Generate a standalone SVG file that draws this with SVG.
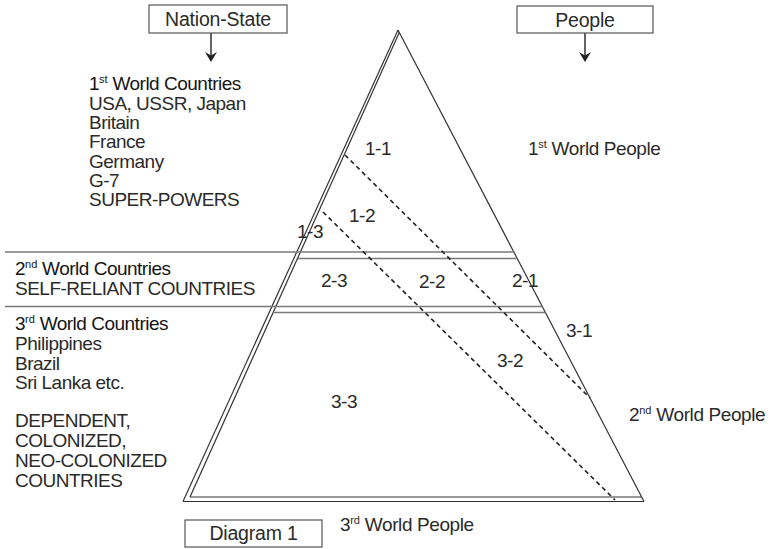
<svg xmlns="http://www.w3.org/2000/svg" width="771" height="549" viewBox="0 0 771 549">
<style>
text{font-family:"Liberation Sans",Arial,sans-serif;fill:#2a2a2a}
.b{font-size:19px;letter-spacing:-0.5px}
.h{fill:#151515}
.bx{font-size:19.5px;letter-spacing:-0.2px}
.p{font-size:19px;letter-spacing:-0.4px}
.sup{font-size:11px;letter-spacing:0}
.tri{stroke:#333;stroke-width:1.2;fill:none}
.band{stroke:#7a7a7a;stroke-width:1.6;fill:none}
.dash{stroke:#222;stroke-width:1.6;stroke-dasharray:4.5 3.5;fill:none}
.box{fill:#fff;stroke:#555;stroke-width:1.2}
.arr{stroke:#222;stroke-width:1.4}
</style>
<rect width="771" height="549" fill="#fff"/>
<g id="connectors">
<line class="arr" x1="211" y1="33" x2="211" y2="56"/>
<polygon points="205,52 211,62 217,52 211,55.5" fill="#222"/>
<line class="arr" x1="585" y1="33" x2="585" y2="56"/>
<polygon points="579,52 585,62 591,52 585,55.5" fill="#222"/>
</g>
<g id="pyramid">
<line class="tri" x1="398" y1="30" x2="183" y2="501.5"/>
<line class="tri" x1="399.5" y1="32" x2="190" y2="497"/>
<line class="tri" x1="398" y1="30" x2="644" y2="501.5"/>
<line class="tri" x1="183" y1="501.5" x2="644" y2="501.5"/>
<line class="tri" x1="190" y1="497" x2="641.5" y2="497"/>
</g>
<g id="bands">
<line class="band" x1="5" y1="252" x2="514.5" y2="252"/>
<line class="band" x1="297.5" y1="258.5" x2="517.5" y2="258.5"/>
<line class="band" x1="5" y1="306.5" x2="542.5" y2="306.5"/>
<line class="band" x1="273" y1="312.5" x2="545.5" y2="312.5"/>
</g>
<g id="dividers">
<line class="dash" x1="345" y1="155" x2="590" y2="398"/>
<line class="dash" x1="323" y1="212" x2="615" y2="500"/>
</g>
<g id="nation-state">
<rect class="box" x="149" y="5" width="138" height="28"/>
<text class="bx" x="218" y="26" text-anchor="middle">Nation-State</text>
</g>
<g id="people">
<rect class="box" x="517" y="6" width="136" height="27"/>
<text class="bx" x="585" y="27" text-anchor="middle">People</text>
</g>
<g id="first-world-countries">
<text class="b h" x="89" y="90">1<tspan class="sup" dy="-7">st</tspan><tspan dy="7"> World Countries</tspan></text>
<text class="b" x="89" y="109.5">USA, USSR, Japan</text>
<text class="b" x="89" y="129">Britain</text>
<text class="b" x="89" y="148">France</text>
<text class="b" x="89" y="167.5">Germany</text>
<text class="b" x="89" y="187">G-7</text>
<text class="b" x="89" y="206">SUPER-POWERS</text>
</g>
<g id="second-world-countries">
<text class="b h" x="15" y="275">2<tspan class="sup" dy="-7">nd</tspan><tspan dy="7"> World Countries</tspan></text>
<text class="b" x="15" y="295">SELF-RELIANT COUNTRIES</text>
</g>
<g id="third-world-countries">
<text class="b h" x="15" y="330">3<tspan class="sup" dy="-7">rd</tspan><tspan dy="7"> World Countries</tspan></text>
<text class="b" x="15" y="350">Philippines</text>
<text class="b" x="15" y="370">Brazil</text>
<text class="b" x="15" y="389">Sri Lanka etc.</text>
<text class="b" x="15" y="427">DEPENDENT,</text>
<text class="b" x="15" y="447">COLONIZED,</text>
<text class="b" x="15" y="467">NEO-COLONIZED</text>
<text class="b" x="15" y="487">COUNTRIES</text>
</g>
<g id="cells">
<text class="b" x="378" y="155" text-anchor="middle">1-1</text>
<text class="b" x="362" y="222" text-anchor="middle">1-2</text>
<text class="b" x="310" y="238" text-anchor="middle">1-3</text>
<text class="b" x="525" y="287" text-anchor="middle">2-1</text>
<text class="b" x="432" y="288" text-anchor="middle">2-2</text>
<text class="b" x="334" y="287" text-anchor="middle">2-3</text>
<text class="b" x="579" y="337" text-anchor="middle">3-1</text>
<text class="b" x="510" y="367" text-anchor="middle">3-2</text>
<text class="b" x="344" y="408" text-anchor="middle">3-3</text>
</g>
<g id="first-world-people">
<text class="p" x="528" y="155">1<tspan class="sup" dy="-7">st</tspan><tspan dy="7"> World People</tspan></text>
</g>
<g id="second-world-people">
<text class="p" x="629" y="421">2<tspan class="sup" dy="-7">nd</tspan><tspan dy="7"> World People</tspan></text>
</g>
<g id="third-world-people">
<text class="p" x="340" y="531">3<tspan class="sup" dy="-7">rd</tspan><tspan dy="7"> World People</tspan></text>
</g>
<g id="diagram-label">
<rect class="box" x="185" y="520" width="137" height="27"/>
<text class="bx" x="253.5" y="540" text-anchor="middle">Diagram 1</text>
</g>
</svg>
